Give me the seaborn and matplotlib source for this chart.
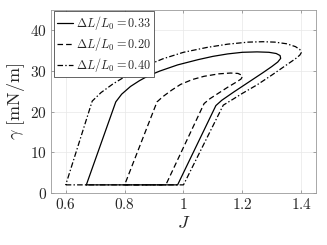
import matplotlib
matplotlib.use("Agg")
import matplotlib.pyplot as plt
import seaborn as sns
import pandas as pd

# ---- data ----
J_033 = [0.67, 0.98, 1.11, 1.13, 1.17, 1.22, 1.27, 1.30, 1.32, 1.33, 1.328, 1.315, 1.29, 1.25, 1.20, 1.15, 1.10, 1.05, 0.98, 0.92, 0.88, 0.85, 0.82, 0.79, 0.77, 0.67]
G_033 = [2.0, 2.0, 21.5, 22.8, 24.8, 27.2, 29.6, 31.1, 32.2, 33.1, 33.8, 34.3, 34.6, 34.7, 34.6, 34.2, 33.6, 32.8, 31.5, 30.0, 28.8, 27.6, 26.2, 24.3, 22.4, 2.0]

J_020 = [0.80, 0.94, 1.07, 1.09, 1.12, 1.15, 1.18, 1.195, 1.20, 1.197, 1.185, 1.16, 1.12, 1.07, 1.03, 0.99, 0.96, 0.93, 0.91, 0.80]
G_020 = [2.0, 2.0, 22.0, 23.2, 24.6, 26.0, 27.3, 28.0, 28.6, 29.0, 29.4, 29.5, 29.3, 28.7, 27.9, 26.7, 25.3, 23.7, 22.4, 2.0]

J_040 = [0.60, 1.00, 1.135, 1.16, 1.20, 1.25, 1.30, 1.35, 1.38, 1.395, 1.40, 1.395, 1.38, 1.35, 1.31, 1.27, 1.22, 1.15, 1.08, 1.00, 0.93, 0.87, 0.81, 0.76, 0.72, 0.69, 0.60]
G_040 = [2.0, 2.0, 21.6, 22.7, 24.5, 26.6, 29.0, 31.5, 33.0, 33.9, 34.5, 35.3, 36.0, 36.7, 37.1, 37.2, 37.1, 36.6, 35.8, 34.6, 33.0, 31.2, 29.0, 26.8, 24.7, 22.6, 2.0]

labels = [r"$\Delta L/L_0 = 0.33$", r"$\Delta L/L_0 = 0.20$", r"$\Delta L/L_0 = 0.40$"]
xticks = [0.6, 0.8, 1.0, 1.2, 1.4]
xticklabels = ["0.6", "0.8", "1", "1.2", "1.4"]
yticks = [0, 10, 20, 30, 40]
yticklabels = ["0", "10", "20", "30", "40"]

sns.set_style("white")
plt.rcParams["mathtext.fontset"] = "cm"
plt.rcParams["font.family"] = ["DejaVu Serif"]
plt.rcParams["lines.scale_dashes"] = False

fig = plt.figure(figsize=(3.27, 2.45), dpi=100)
ax = fig.add_axes([51 / 327, 1 - 193 / 245, (316 - 51) / 327, (193 - 10) / 245])

styles = ["-", "--", "-."]
dash_patterns = [None, (4.0, 2.2), (4.0, 1.6, 1.0, 1.6)]
series = [(J_033, G_033), (J_020, G_020), (J_040, G_040)]
for (xs, ys), lab, ls in zip(series, labels, styles):
    df = pd.DataFrame({"J": xs, "g": ys})
    sns.lineplot(data=df, x="J", y="g", sort=False, estimator=None, ax=ax,
                 color="black", linestyle=ls, linewidth=0.9, label=lab)

for line, dp in zip(ax.get_lines(), dash_patterns):
    if dp is not None:
        line.set_dashes(dp)

ax.set_xlim(0.55, 1.45)
ax.set_ylim(0, 45)
ax.set_xticks(xticks)
ax.set_xticklabels(["$%s$" % t for t in xticklabels])
ax.set_yticks(yticks)
ax.set_yticklabels(["$%s$" % t for t in yticklabels])
ax.tick_params(direction="in", length=2.5, width=0.5, color="#808080",
               labelsize=11, labelcolor="#262626", top=True, right=True,
               bottom=True, left=True, pad=3)
ax.grid(True, color="#e8e8e8", linewidth=0.5)
for s in ax.spines.values():
    s.set_color("#9a9a9a")
    s.set_linewidth(0.6)

ax.set_xlabel(r"$J$", fontsize=13, color="#262626", labelpad=1)
ax.set_ylabel(r"$\gamma\ [\mathrm{mN/m}]$", fontsize=13, color="#262626", labelpad=2)

leg = ax.legend(loc="upper left", bbox_to_anchor=(0.012, 0.995), borderaxespad=0,
                fontsize=8.8, handlelength=1.3, handletextpad=0.2,
                labelspacing=0.25, borderpad=0.25, fancybox=False, framealpha=1,
                edgecolor="#262626")
leg.get_frame().set_linewidth(0.5)

fig.savefig("out.png", dpi=100)
